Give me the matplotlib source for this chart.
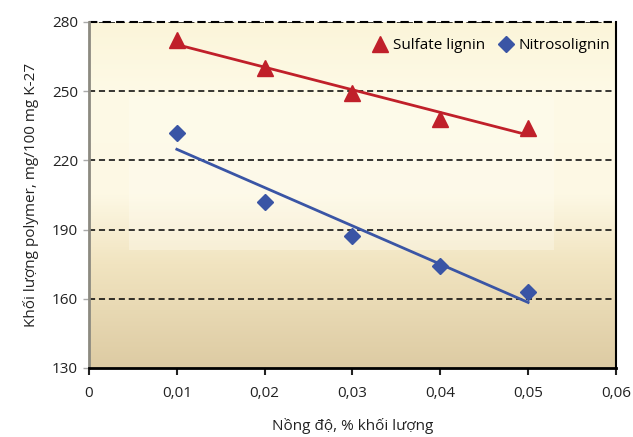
import numpy as np
import matplotlib
matplotlib.use("Agg")
from matplotlib import pyplot as plt
from matplotlib.colors import LinearSegmentedColormap
from matplotlib.ticker import FuncFormatter

plt.rcParams['font.family'] = ['Open Sans', 'DejaVu Sans']

# data
conc = [0.01, 0.02, 0.03, 0.04, 0.05]
sulfate = [272, 260, 249, 238, 234]
nitroso = [232, 202, 187, 174, 163]
x_ticks = [0, 0.01, 0.02, 0.03, 0.04, 0.05, 0.06]
y_ticks = [130, 160, 190, 220, 250, 280]

red = '#C0202A'
blue = '#3A55A5'

fig = plt.figure(figsize=(6.33, 4.37), dpi=100)
ax = fig.add_axes([0.1406, 0.158, 0.8325, 0.7917])

# background gradient (cream at top, tan at bottom)
cmap = LinearSegmentedColormap.from_list(
    'bg', [(0.0, '#DDCBA3'), (0.3, '#F1E4C0'), (0.5, '#FDF8E4'),
           (0.8, '#FEFAE6'), (1.0, '#FBF5D9')])
grad = np.linspace(0, 1, 256).reshape(-1, 1)
ax.imshow(grad, aspect='auto', cmap=cmap, origin='lower',
          extent=[0, 0.06, 130, 280], zorder=0)
ax.fill_between([0.0045, 0.053], 181, 248, color='#FFFDF3', alpha=0.35,
                lw=0, zorder=0.5)

for yv in y_ticks[1:]:
    ax.axhline(yv, color='black', ls=(0, (4, 2.5)), lw=1.1, zorder=1)

xs = np.array([conc[0], conc[-1]])
k1 = np.polyfit(conc, sulfate, 1)
k2 = np.polyfit(conc, nitroso, 1)
ax.plot(xs, np.polyval(k1, xs), color=red, lw=2, zorder=2)
ax.plot(xs, np.polyval(k2, xs), color=blue, lw=2, zorder=2)

ax.plot(conc, sulfate, ls='none', marker='^', ms=11, color=red,
        label='Sulfate lignin', zorder=3)
ax.plot(conc, nitroso, ls='none', marker='D', ms=8, color=blue,
        label='Nitrosolignin', zorder=3)

ax.set_xlim(0, 0.06)
ax.set_ylim(130, 280)
ax.set_xticks(x_ticks)
ax.set_yticks(y_ticks)
ax.xaxis.set_major_formatter(FuncFormatter(
    lambda v, p: '0' if v == 0 else f'{v:.2f}'.replace('.', ',')))

ax.spines['left'].set_color('#8C8A80')
ax.spines['left'].set_linewidth(2)
ax.spines['bottom'].set_linewidth(2)
ax.spines['right'].set_linewidth(1.5)
ax.spines['top'].set_visible(False)
ax.axhline(280, color='black', ls=(0, (4, 2.5)), lw=1.5, zorder=1, clip_on=False)

ax.tick_params(axis='x', direction='out', length=5, width=1.5, labelsize=11,
               colors='#222222', pad=8)
ax.tick_params(axis='y', direction='out', length=4, width=1, color='#aaaaaa',
               labelsize=11, labelcolor='#222222', pad=4)

ax.set_xlabel('Nồng độ, % khối lượng', fontsize=11, color='#222222', labelpad=12)
ax.set_ylabel('Khối lượng polymer, mg/100 mg K-27', fontsize=11,
              color='#222222', labelpad=9)

ax.legend(loc='upper right', ncol=2, frameon=False, fontsize=11,
          handletextpad=0.1, columnspacing=0.6, handlelength=1.5,
          bbox_to_anchor=(1.01, 0.985), borderaxespad=0.3)

fig.savefig('out.png', dpi=100)
